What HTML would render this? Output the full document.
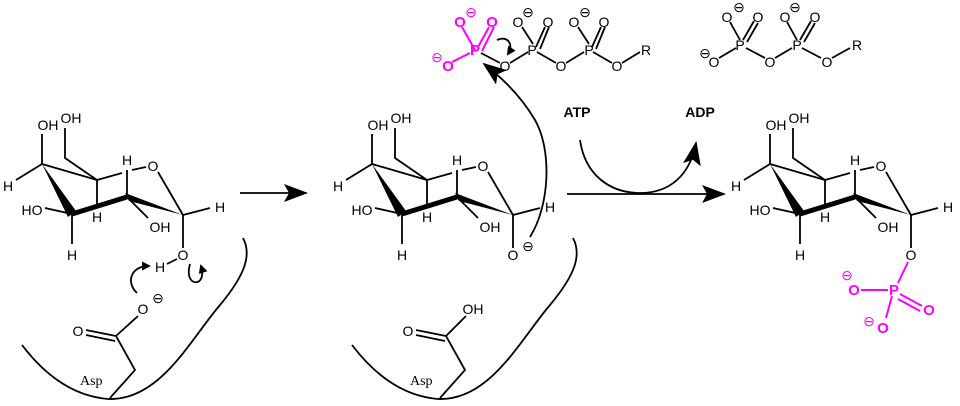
<!DOCTYPE html>
<html><head><style>
html,body{margin:0;padding:0;background:#fff;}
svg{display:block;}
text{font-family:"Liberation Sans",sans-serif;font-size:14px;}
.s{fill:none;stroke:#000;stroke-width:1.8;}
.m{fill:none;stroke:#f0f;stroke-width:2;}
.mt{fill:#f0f;font-weight:bold;font-size:15px;}
</style></head><body>
<svg width="960" height="406" viewBox="0 0 960 406">
<defs>
<marker id="ah" markerWidth="9" markerHeight="9" refX="7" refY="4.5" orient="auto" markerUnits="userSpaceOnUse"><path d="M0,0L9,4.5L0,9z"/></marker>
<marker id="ab" markerWidth="24" markerHeight="18" refX="22" refY="9" orient="auto" markerUnits="userSpaceOnUse"><path d="M0,0L24,9L0,18L5,9z"/></marker>
</defs>

<!-- Sugar 1 -->
<g>
<g class="s">
<path d="M42,164V134M65,128V158L97,180M42,164L97,180M42,164L16,180M72,214L45,208M72,214V244M97,180V204M97,180L122,173M132,170L146,167M127,197V170M158,172L183,215M183,215L210,208M127,197L148,218M183,215V248"/>
</g>
<polygon points="42,164 68,217 76,211"/>
<line x1="72" y1="214" x2="127" y2="197" stroke="#000" stroke-width="5"/>
<polygon points="183,215 125,193 129,201"/>
<g text-anchor="middle">
<text x="48" y="130">OH</text><text x="71" y="123">OH</text>
<text x="8" y="191">H</text><text x="32" y="215">HO</text>
<text x="72" y="260">H</text><text x="97" y="222">H</text>
<text x="127" y="165">H</text><text x="153" y="171">O</text>
<text x="220" y="212">H</text><text x="160" y="232">OH</text>
</g>
</g>
<g text-anchor="middle">
<text x="183" y="260">O</text><text x="160" y="272">H</text>
</g>
<line class="s" x1="167" y1="264" x2="177" y2="259"/>
<path class="s" d="M137,293C126,283 130,266 149,266" marker-end="url(#ah)"/>
<path class="s" d="M190,264C183,288 208,288 201,266" marker-end="url(#ah)"/>
<text x="143" y="314" text-anchor="middle">O</text><text x="158" y="303" text-anchor="middle" font-size="13">⊖</text>
<path class="s" d="M116,336L138,316M116,336L86,330M115,341L86,335M116,336L135,370L110,398"/>
<text x="78" y="336" text-anchor="middle">O</text>
<text x="80" y="385" style="font-family:'Liberation Serif',serif">Asp</text>
<path class="s" stroke-width="2" d="M22,345Q60,395 108,399C160,401 190,340 220,305C245,275 252,255 243,238"/>

<line x1="240" y1="193" x2="306" y2="193" stroke="#000" stroke-width="1.8" marker-end="url(#ab)"/>

<!-- Sugar 2 -->
<g transform="translate(330,0)">
<g class="s">
<path d="M42,164V134M65,128V158L97,180M42,164L97,180M42,164L16,180M72,214L45,208M72,214V244M97,180V204M97,180L122,173M132,170L146,167M127,197V170M158,172L183,215M183,215L210,208M127,197L148,218M183,215V248"/>
</g>
<polygon points="42,164 68,217 76,211"/>
<line x1="72" y1="214" x2="127" y2="197" stroke="#000" stroke-width="5"/>
<polygon points="183,215 125,193 129,201"/>
<g text-anchor="middle">
<text x="48" y="130">OH</text><text x="71" y="123">OH</text>
<text x="8" y="191">H</text><text x="32" y="215">HO</text>
<text x="72" y="260">H</text><text x="97" y="222">H</text>
<text x="127" y="165">H</text><text x="153" y="171">O</text>
<text x="220" y="212">H</text><text x="160" y="232">OH</text>
<text x="183" y="260">O</text><text x="198" y="251" font-size="13">⊖</text>
</g>
<text x="143" y="314" text-anchor="middle">OH</text>
<path class="s" d="M116,336L136,316M116,336L86,330M115,341L86,335M116,336L135,370L110,398"/>
<text x="78" y="336" text-anchor="middle">O</text>
<text x="80" y="385" style="font-family:'Liberation Serif',serif">Asp</text>
<path class="s" stroke-width="2" d="M22,345Q60,395 108,399C160,401 190,340 220,305C245,275 252,255 243,238"/>
</g>
<path class="s" stroke-width="2" d="M530,237C550,205 552,150 535,120C522,98 505,80 484,64" marker-end="url(#ab)"/>

<!-- ATP chain -->
<g class="m"><path d="M475,50L462,27M478,47L489,27M482,51L494,27M470,53L452,62"/></g>
<path class="s" d="M481,53L500,63M510,63L528,52M533,44L522,27M536,47L545,27M540,49L549,27M537,52L556,63M566,63L584,52M589,44L578,27M592,47L601,27M596,49L605,27M593,52L612,63M622,63L640,52"/>
<path class="s" d="M497,40C508,35 514,45 508,54" marker-end="url(#ah)"/>
<g text-anchor="middle">
<text class="mt" x="475" y="55">P</text><text class="mt" x="460" y="27">O</text><text class="mt" x="492" y="27">O</text>
<text class="mt" x="448" y="71">O</text>
<text x="471" y="17" fill="#f0f" font-size="13">⊖</text><text x="437" y="62" fill="#f0f" font-size="13">⊖</text>
<text x="505" y="71">O</text><text x="532" y="55">P</text><text x="518" y="27">O</text><text x="548" y="27">O</text><text x="528" y="17" font-size="13">⊖</text>
<text x="561" y="71">O</text><text x="589" y="55">P</text><text x="574" y="27">O</text><text x="604" y="27">O</text><text x="585" y="17" font-size="13">⊖</text>
<text x="617" y="71">O</text><text x="646" y="55">R</text>
</g>
<text x="577" y="117" text-anchor="middle" font-weight="bold" font-size="16">ATP</text>
<text x="700" y="117" text-anchor="middle" font-weight="bold" font-size="16">ADP</text>
<path class="s" stroke-width="2" d="M580,140C585,175 610,193 640,193C670,193 690,175 696,143" marker-end="url(#ab)"/>
<line x1="567" y1="194" x2="724" y2="194" stroke="#000" stroke-width="1.8" marker-end="url(#ab)"/>

<!-- ADP chain -->
<path class="s" d="M740,40L730,22M743,40L754,21M747,42L758,23M736,48L719,58M746,48L765,58M775,58L792,48M797,40L787,22M800,40L811,21M804,42L815,23M802,48L821,58M832,58L850,48"/>
<g text-anchor="middle">
<text x="740" y="50">P</text><text x="727" y="22">O</text><text x="758" y="22">O</text><text x="739" y="12" font-size="13">⊖</text>
<text x="714" y="67">O</text><text x="705" y="58" font-size="13">⊖</text>
<text x="770" y="67">O</text><text x="797" y="50">P</text><text x="785" y="22">O</text><text x="815" y="22">O</text><text x="795" y="12" font-size="13">⊖</text>
<text x="827" y="67">O</text><text x="857" y="50">R</text>
</g>

<!-- Sugar 3 -->
<g transform="translate(728,0)">
<g class="s">
<path d="M42,164V134M65,128V158L97,180M42,164L97,180M42,164L16,180M72,214L45,208M72,214V244M97,180V204M97,180L122,173M132,170L146,167M127,197V170M158,172L183,215M183,215L210,208M127,197L148,218M183,215V248"/>
</g>
<polygon points="42,164 68,217 76,211"/>
<line x1="72" y1="214" x2="127" y2="197" stroke="#000" stroke-width="5"/>
<polygon points="183,215 125,193 129,201"/>
<g text-anchor="middle">
<text x="48" y="130">OH</text><text x="71" y="123">OH</text>
<text x="8" y="191">H</text><text x="32" y="215">HO</text>
<text x="72" y="260">H</text><text x="97" y="222">H</text>
<text x="127" y="165">H</text><text x="153" y="171">O</text>
<text x="220" y="212">H</text><text x="160" y="232">OH</text>
<text x="183" y="260">O</text>
</g>
</g>
<g class="m"><path d="M908,262L898,283M888,290L861,290M900,294L922,306M898,299L920,311M892,296L886,318"/></g>
<g text-anchor="middle">
<text class="mt" x="894" y="295">P</text><text class="mt" x="854" y="295">O</text><text class="mt" x="929" y="315">O</text><text class="mt" x="883" y="333">O</text>
<text x="847" y="280" fill="#f0f" font-size="13">⊖</text><text x="869" y="326" fill="#f0f" font-size="13">⊖</text>
</g>
</svg>
</body></html>
